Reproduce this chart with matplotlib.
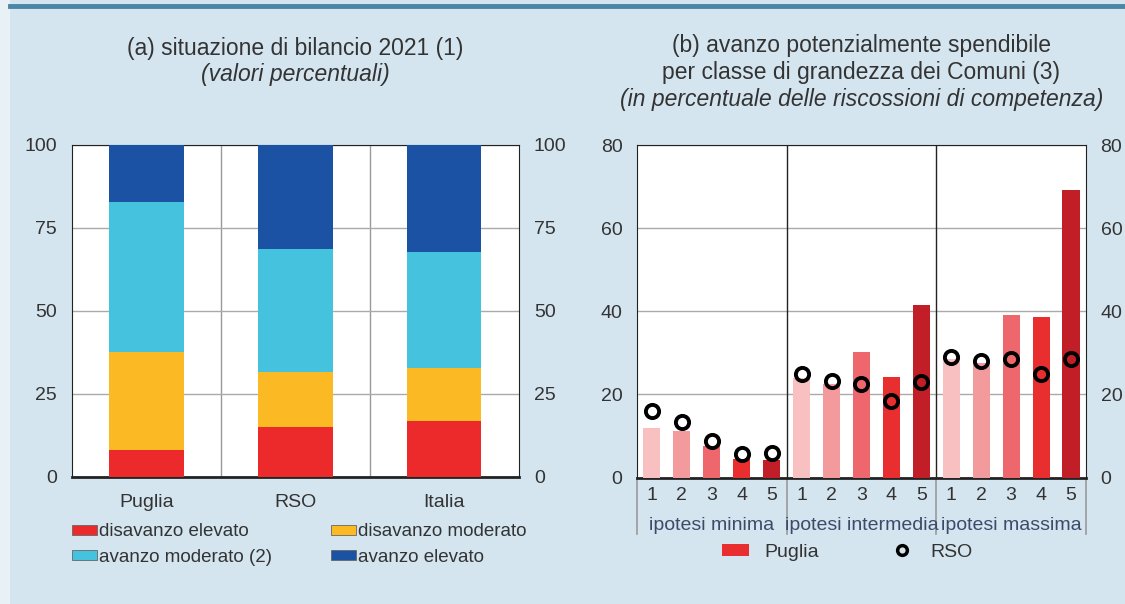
import matplotlib.pyplot as plt
from matplotlib.patches import Patch, Rectangle
from matplotlib.lines import Line2D
import numpy as np

plt.rcParams["font.family"] = ["Liberation Sans", "DejaVu Sans"]

BG = "#d4e5ef"
TXT = "#333333"

# panel (a)
regions = ["Puglia", "RSO", "Italia"]
disavanzo_elevato = [8.1, 15.2, 17.0]
disavanzo_moderato = [29.6, 16.3, 15.7]
avanzo_moderato = [45.2, 37.1, 35.0]
avanzo_elevato = [17.1, 31.4, 32.3]
stack_labels = ["disavanzo elevato", "disavanzo moderato",
                "avanzo moderato (2)", "avanzo elevato"]
stack_colors = ["#ec2a2c", "#fbb924", "#45c3de", "#1c52a3"]

# panel (b)
classes = ["1", "2", "3", "4", "5"]
hypotheses = ["ipotesi minima", "ipotesi intermedia", "ipotesi massima"]
puglia = [
    [11.9, 11.1, 7.7, 4.5, 4.1],
    [24.0, 22.5, 30.1, 24.2, 41.4],
    [28.5, 27.5, 39.1, 38.6, 69.1],
]
rso = [
    [15.9, 13.4, 8.9, 5.7, 5.9],
    [25.0, 23.3, 22.5, 18.4, 22.9],
    [29.1, 28.0, 28.5, 24.9, 28.6],
]
class_colors = ["#f9c0c2", "#f39a9c", "#ee676c", "#e92e2f", "#c11e28"]

TITLE_FS = 16.5
TICK_FS = 14
LEG_FS = 13.5

fig = plt.figure(figsize=(11.25, 6.04), dpi=100, facecolor=BG)
fig.patches.append(Rectangle((0, 0), 10 / 1125, 1, transform=fig.transFigure,
                             facecolor="#e8f1f6", edgecolor="none", zorder=-1))
fig.add_artist(Line2D([10 / 1125, 1], [1 - 6 / 604, 1 - 6 / 604],
                      color="#4a86a6", lw=3.5))

# ---- left panel
ax1 = fig.add_axes([0.064, 0.2103, 0.397, 0.5497])
x = np.arange(len(regions))
bottom = np.zeros(len(regions))
for vals, col, lab in zip([disavanzo_elevato, disavanzo_moderato,
                           avanzo_moderato, avanzo_elevato],
                          stack_colors, stack_labels):
    ax1.bar(x, vals, 0.5, bottom=bottom, color=col, label=lab, zorder=3)
    bottom += np.array(vals)
ax1.set_xlim(-0.5, 2.5)
ax1.set_ylim(0, 100)
ax1.set_yticks([0, 25, 50, 75, 100])
ax1.set_xticks(x)
ax1.set_xticklabels(regions)
for v in [0.5, 1.5]:
    ax1.axvline(v, color="#999999", lw=1, zorder=1)
ax1.grid(axis="y", color="#aaaaaa", lw=1, zorder=1)
ax1.tick_params(length=0, labelsize=TICK_FS, colors=TXT, pad=11, right=True,
                labelright=True)
ax1.tick_params(axis="x", pad=12)
for s in ax1.spines.values():
    s.set_color("#222222")
ax1.spines["bottom"].set_linewidth(2)
ax1.text(0.5, 1.0 + 96 / 332, "(a) situazione di bilancio 2021 (1)",
         transform=ax1.transAxes, ha="center", va="center", fontsize=TITLE_FS,
         color=TXT)
ax1.text(0.5, 1.0 + 70 / 332, "(valori percentuali)",
         transform=ax1.transAxes, ha="center", va="center", fontsize=TITLE_FS,
         color=TXT, style="italic")

handles = [Patch(facecolor=c, edgecolor="#666666", lw=0.6) for c in stack_colors]
order = [0, 2, 1, 3]
fig.legend([handles[i] for i in order], [stack_labels[i] for i in order],
           ncol=2, loc="upper left", bbox_to_anchor=(0.064, 0.1333),
           frameon=False, fontsize=LEG_FS, handlelength=1.33, handleheight=0.45,
           handletextpad=0.1, columnspacing=3.15, labelspacing=0.45,
           labelcolor=TXT, borderpad=0, borderaxespad=0)

# ---- right panel
ax2 = fig.add_axes([0.5662, 0.2094, 0.3991, 0.5505])
n = len(classes)
for g in range(len(hypotheses)):
    xs = g * n + np.arange(n)
    ax2.bar(xs, puglia[g], 0.57, color=class_colors, edgecolor="none",
            zorder=3)
    ax2.plot(xs, rso[g], "o", ms=9.5, mfc="none", mec="black", mew=2.8,
             zorder=4)
ax2.set_xlim(-0.5, 3 * n - 0.5)
ax2.set_ylim(0, 80)
ax2.set_yticks([0, 20, 40, 60, 80])
ax2.set_xticks(np.arange(3 * n))
ax2.set_xticklabels(classes * 3)
ax2.grid(axis="y", color="#aaaaaa", lw=1, zorder=1)
for g in range(1, 3):
    ax2.axvline(g * n - 0.5, color="#222222", lw=1, zorder=2)
ax2.tick_params(length=0, labelsize=TICK_FS, colors=TXT, right=True,
                labelright=True)
ax2.tick_params(axis="y", pad=10.5)
ax2.tick_params(axis="x", pad=7)
for s in ax2.spines.values():
    s.set_color("#222222")
ax2.spines["bottom"].set_linewidth(2)
trans = ax2.get_xaxis_transform()
for g in range(len(hypotheses)):
    ax2.text(g * n + 2, -48 / 332, hypotheses[g], transform=trans,
             ha="center", va="center", fontsize=TICK_FS, color="#3d4a6a")
for g in range(4):
    ax2.plot([g * n - 0.5, g * n - 0.5], [0, -56 / 332], transform=trans,
             color="#9a9a9a", lw=1.2, clip_on=False)
ax2.text(0.5, 1.0 + 99 / 332, "(b) avanzo potenzialmente spendibile",
         transform=ax2.transAxes, ha="center", va="center", fontsize=TITLE_FS,
         color=TXT)
ax2.text(0.5, 1.0 + 72 / 332, "per classe di grandezza dei Comuni (3)",
         transform=ax2.transAxes, ha="center", va="center", fontsize=TITLE_FS,
         color=TXT)
ax2.text(0.5, 1.0 + 45 / 332,
         "(in percentuale delle riscossioni di competenza)",
         transform=ax2.transAxes, ha="center", va="center", fontsize=TITLE_FS,
         color=TXT, style="italic")

leg_handles = [Patch(facecolor="#e92e2f", edgecolor="none"),
               Line2D([], [], ls="none", marker="o", ms=7, mfc="none",
                      mec="black", mew=2.5)]
fig.legend(leg_handles, ["Puglia", "RSO"], ncol=2, loc="center left",
           bbox_to_anchor=(0.6418, 0.086), frameon=False, fontsize=TICK_FS,
           handlelength=1.39, handleheight=0.55, handletextpad=0.77,
           columnspacing=3.58, labelcolor=TXT, borderpad=0, borderaxespad=0)

fig.savefig("out.png", dpi=100, facecolor=BG)
